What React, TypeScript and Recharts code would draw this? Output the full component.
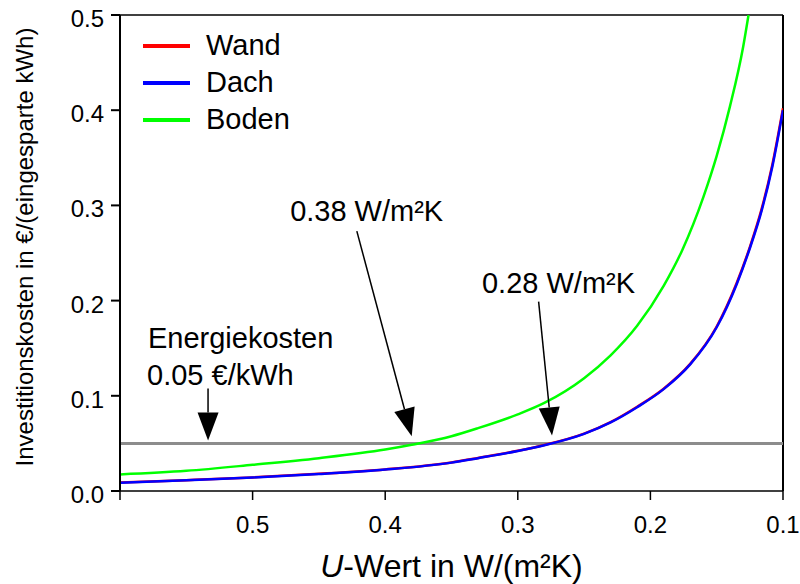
import { LineChart, Line, XAxis, YAxis, ReferenceLine, ReferenceDot, Legend } from 'recharts'

const FONT = '"Liberation Sans", Arial, Helvetica, sans-serif'

// U-Werte (W/m²K) und Kosten (€/eingesparte kWh)
const SERIES = ['Wand', 'Dach', 'Boden']

const U_WAND_DACH = [0.6, 0.55, 0.5, 0.45, 0.4, 0.35, 0.33, 0.3, 0.28, 0.25, 0.23, 0.21, 0.19, 0.17, 0.15, 0.135, 0.125, 0.116, 0.108, 0.1]
const WAND = [0.0088, 0.0114, 0.0143, 0.018, 0.0227, 0.0300, 0.0347, 0.0422, 0.0483, 0.0603, 0.0724, 0.0885, 0.1075, 0.1335, 0.1728, 0.2182, 0.2562, 0.2968, 0.343, 0.402]
const DACH = [0.0086, 0.0113, 0.0142, 0.0178, 0.0225, 0.0298, 0.0345, 0.042, 0.048, 0.060, 0.072, 0.088, 0.107, 0.133, 0.172, 0.217, 0.255, 0.295, 0.341, 0.40]

const U_BODEN = [0.6, 0.55, 0.5, 0.45, 0.4, 0.38, 0.35, 0.33, 0.3, 0.28, 0.25, 0.23, 0.21, 0.19, 0.176, 0.16, 0.15, 0.14, 0.13, 0.126]
const BODEN = [0.0174, 0.0212, 0.0275, 0.0345, 0.0435, 0.0485, 0.0575, 0.066, 0.0805, 0.0925, 0.1185, 0.1425, 0.1735, 0.2155, 0.253, 0.309, 0.352, 0.404, 0.467, 0.50]

const ENERGIEKOSTEN = 0.05

const X_TICKS = [0.6, 0.5, 0.4, 0.3, 0.2, 0.1]
const Y_TICKS = [0, 0.1, 0.2, 0.3, 0.4, 0.5]

// Pfeile: Start (u, v) -> Spitze (u, v)
const ARROWS = [
  { from: { x: 0.4214, y: 0.273 }, to: { x: 0.380, y: 0.0574 } },
  { from: { x: 0.2843, y: 0.199 }, to: { x: 0.2742, y: 0.0584 } },
  { from: { x: 0.5336, y: 0.1076 }, to: { x: 0.5336, y: 0.053 } },
]

const NOTES = [
  { text: '0.38 W/m²K', u: 0.4717, v: 0.2837 },
  { text: '0.28 W/m²K', u: 0.327, v: 0.2076 },
  { text: 'Energiekosten', u: 0.5789, v: 0.15 },
  { text: '0.05 €/kWh', u: 0.5796, v: 0.111 },
]

const wandData = U_WAND_DACH.map((u, i) => ({ u, v: WAND[i] }))
const dachData = U_WAND_DACH.map((u, i) => ({ u, v: DACH[i] }))
const bodenData = U_BODEN.map((u, i) => ({ u, v: BODEN[i] }))

function Arrow(props: any) {
  const { x1, y1, x2, y2 } = props
  const dx = x2 - x1
  const dy = y2 - y1
  const len = Math.sqrt(dx * dx + dy * dy) || 1
  const ux = dx / len
  const uy = dy / len
  const head = 28
  const half = 10.5
  const bx = x2 - ux * head
  const by = y2 - uy * head
  const pts = `${x2},${y2} ${bx - uy * half},${by + ux * half} ${bx + uy * half},${by - ux * half}`
  return (
    <g>
      <line x1={x1} y1={y1} x2={bx} y2={by} stroke="#000" strokeWidth={1.5} />
      <polygon points={pts} fill="#000" />
    </g>
  )
}

function NoteText(text: string) {
  return (props: any) => (
    <text x={props.cx} y={props.cy} fontFamily={FONT} fontSize={29} fill="#000">
      {text}
    </text>
  )
}

function XTick(props: any) {
  const { x, y, payload } = props
  if (payload.value === 0.6) return <g />
  return (
    <text x={x} y={y} dy={25} textAnchor="middle" fontFamily={FONT} fontSize={24} fill="#000">
      {payload.value.toFixed(1)}
    </text>
  )
}

function YTick(props: any) {
  const { x, y, payload } = props
  return (
    <text x={x} y={y} dy={12} textAnchor="end" fontFamily={FONT} fontSize={24} fill="#000">
      {payload.value.toFixed(1)}
    </text>
  )
}

function XTitle(props: any) {
  const vb = props.viewBox || { x: 120, y: 491, width: 663, height: 93 }
  return (
    <text x={vb.x + vb.width / 2} y={vb.y + vb.height - 7} textAnchor="middle" fontFamily={FONT} fontSize={32} fill="#000">
      <tspan fontStyle="italic">U</tspan>-Wert in W/(m²K)
    </text>
  )
}

function YTitle(props: any) {
  const vb = props.viewBox || { x: 0, y: 15, width: 120, height: 476 }
  const x = vb.x + 33
  const y = vb.y + vb.height / 2 - 6
  return (
    <text x={x} y={y} transform={`rotate(-90, ${x}, ${y})`} textAnchor="middle" fontFamily={FONT} fontSize={24} fill="#000">
      Investitionskosten in €/(eingesparte kWh)
    </text>
  )
}

function LegendBox(props: any) {
  const items = [...(props.payload || [])].sort((a: any, b: any) => SERIES.indexOf(a.value) - SERIES.indexOf(b.value))
  return (
    <div style={{ fontFamily: FONT, fontSize: 29, color: '#000' }}>
      {items.map((it: any) => (
        <div key={it.value} style={{ display: 'flex', alignItems: 'center', height: 37, lineHeight: '37px' }}>
          <span style={{ display: 'inline-block', width: 47, height: 4, background: it.color, marginRight: 16 }} />
          <span>{it.value}</span>
        </div>
      ))}
    </div>
  )
}

export default function App() {
  return (
    <div style={{ position: 'absolute', left: 0, top: 0, width: 800, height: 584, background: '#fff' }}>
      <LineChart width={800} height={584} margin={{ top: 15, right: 17, bottom: 0, left: 0 }}>
        <XAxis
          type="number"
          dataKey="u"
          domain={[0.1, 0.6]}
          reversed
          allowDataOverflow
          ticks={X_TICKS}
          tick={XTick}
          tickSize={9}
          tickMargin={8}
          height={93}
          stroke="#000"
          strokeWidth={1.5}
          label={XTitle}
        />
        <YAxis
          type="number"
          domain={[0, 0.5]}
          allowDataOverflow
          ticks={Y_TICKS}
          tick={YTick}
          tickSize={9}
          tickMargin={7}
          width={120}
          stroke="#000"
          strokeWidth={2}
          label={YTitle}
        />
        <ReferenceLine y={0.5} stroke="#000" strokeWidth={1.5} />
        <ReferenceLine x={0.1} stroke="#000" strokeWidth={2} />
        <ReferenceLine y={ENERGIEKOSTEN} stroke="#8c8c8c" strokeWidth={3} />
        <Legend
          layout="vertical"
          align="center"
          verticalAlign="middle"
          content={LegendBox}
          wrapperStyle={{ left: 143, top: 27, width: 'auto', height: 'auto' }}
        />
        <Line data={wandData} dataKey="v" name="Wand" stroke="#ff0000" strokeWidth={2.5} dot={false} type="monotone" isAnimationActive={false} />
        <Line data={dachData} dataKey="v" name="Dach" stroke="#0000ff" strokeWidth={2.5} dot={false} type="monotone" isAnimationActive={false} />
        <Line data={bodenData} dataKey="v" name="Boden" stroke="#00ff00" strokeWidth={2.5} dot={false} type="monotone" isAnimationActive={false} />
        {ARROWS.map((a, i) => (
          <ReferenceLine key={`arrow-${i}`} segment={[a.from, a.to]} shape={Arrow} />
        ))}
        {NOTES.map((n) => (
          <ReferenceDot key={n.text} x={n.u} y={n.v} r={0} shape={NoteText(n.text)} />
        ))}
      </LineChart>
    </div>
  )
}
